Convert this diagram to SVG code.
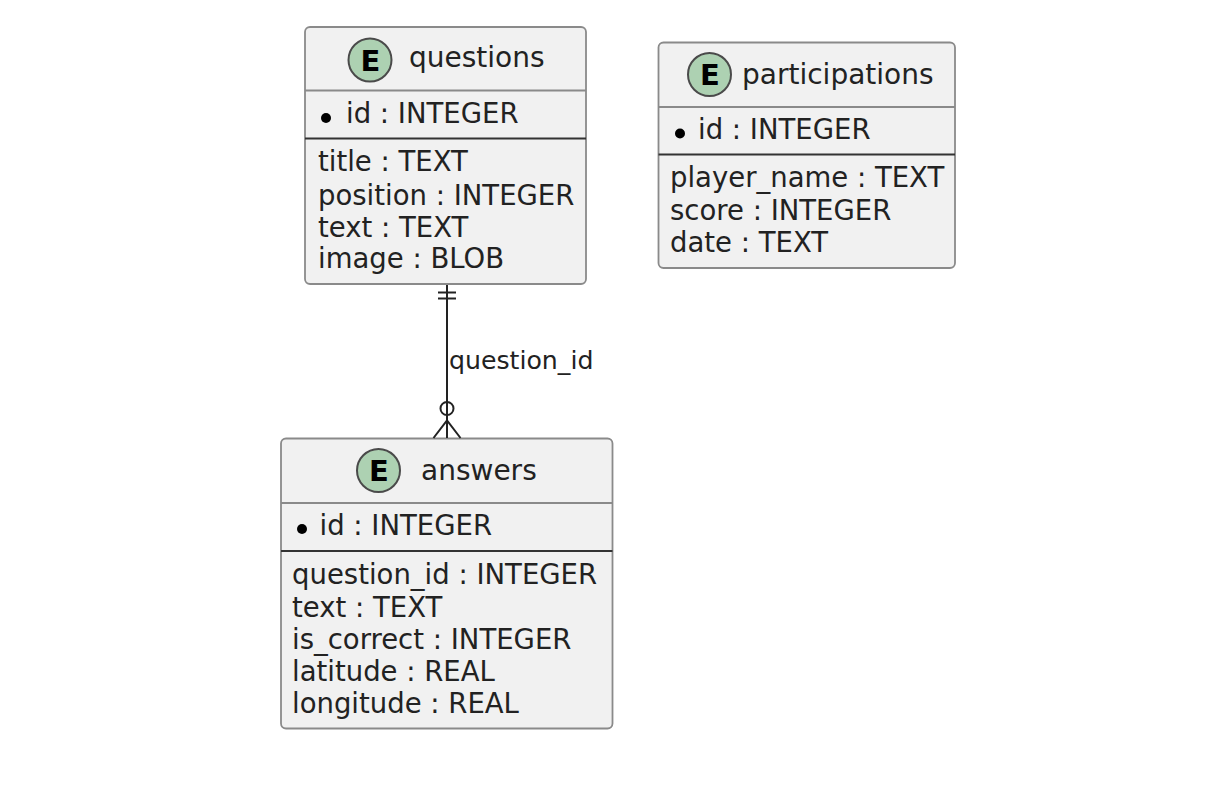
<svg xmlns="http://www.w3.org/2000/svg" width="1228" height="788" viewBox="0 0 1228 788">
<style>
.box{fill:#F1F1F1;stroke:#8A8A8A;stroke-width:1.8}
.hsep{stroke:#8A8A8A;stroke-width:1.8}
.ksep{stroke:#333333;stroke-width:2}
.circ{fill:#ADD1B2;stroke:#4A4A4A;stroke-width:2}
.E{font-family:"DejaVu Sans",sans-serif;font-weight:bold;font-size:29px;fill:#000;text-anchor:middle}
.ttl{font-family:"DejaVu Sans",sans-serif;font-size:28px;fill:#222}
.t{font-family:"DejaVu Sans",sans-serif;font-size:27.5px;fill:#222}
.lbl{font-family:"DejaVu Sans",sans-serif;font-size:25.2px;fill:#222}
.bul{fill:#000}
.ln{stroke:#222;stroke-width:2;fill:none}
</style>
<rect width="1228" height="788" fill="#FFFFFF"/>
<g id="questions">
<rect class="box" x="305" y="27" width="281" height="257" rx="5"/>
<line class="hsep" x1="305" y1="90.5" x2="586" y2="90.5"/>
<line class="ksep" x1="305" y1="138.5" x2="586" y2="138.5"/>
<circle class="circ" cx="370" cy="60" r="21.5"/>
<text class="E" x="370.5" y="70.5">E</text>
<text class="ttl" x="409" y="67">questions</text>
<circle class="bul" cx="326" cy="118" r="5"/>
<text class="t" x="346" y="123">id : INTEGER</text>
<text class="t" x="318" y="171">title : TEXT</text>
<text class="t" x="318" y="204.5">position : INTEGER</text>
<text class="t" x="318" y="236.5">text : TEXT</text>
<text class="t" x="318" y="268">image : BLOB</text>
</g>
<g id="participations">
<rect class="box" x="658.5" y="42.5" width="296.5" height="225.5" rx="5"/>
<line class="hsep" x1="658.5" y1="107" x2="955" y2="107"/>
<line class="ksep" x1="658.5" y1="154.5" x2="955" y2="154.5"/>
<circle class="circ" cx="709.5" cy="74.5" r="21.5"/>
<text class="E" x="710" y="85">E</text>
<text class="ttl" x="742" y="84">participations</text>
<circle class="bul" cx="680" cy="133.5" r="5"/>
<text class="t" x="698" y="139">id : INTEGER</text>
<text class="t" x="670" y="187">player_name : TEXT</text>
<text class="t" x="670" y="220">score : INTEGER</text>
<text class="t" x="670" y="252">date : TEXT</text>
</g>
<g id="answers">
<rect class="box" x="281" y="438.5" width="331.5" height="290" rx="5"/>
<line class="hsep" x1="281" y1="503" x2="612.5" y2="503"/>
<line class="ksep" x1="281" y1="551" x2="612.5" y2="551"/>
<circle class="circ" cx="378.5" cy="470.5" r="21.5"/>
<text class="E" x="379" y="481">E</text>
<text class="ttl" x="421" y="480">answers</text>
<circle class="bul" cx="302" cy="529" r="5"/>
<text class="t" x="319.5" y="535">id : INTEGER</text>
<text class="t" x="292" y="583.5">question_id : INTEGER</text>
<text class="t" x="292" y="616.5">text : TEXT</text>
<text class="t" x="292" y="648.5">is_correct : INTEGER</text>
<text class="t" x="292" y="680.5">latitude : REAL</text>
<text class="t" x="292" y="713">longitude : REAL</text>
</g>
<g id="connectors">
<line class="ln" x1="447" y1="285" x2="447" y2="438"/>
<line class="ln" x1="438" y1="292.5" x2="456" y2="292.5"/>
<line class="ln" x1="438" y1="298.5" x2="456" y2="298.5"/>
<circle class="ln" cx="447" cy="408.5" r="6.5" fill="#FFFFFF"/>
<polyline class="ln" points="433.5,438 447,420.5 460.5,438"/>
<text class="lbl" x="449" y="369">question_id</text>
</g>
</svg>
